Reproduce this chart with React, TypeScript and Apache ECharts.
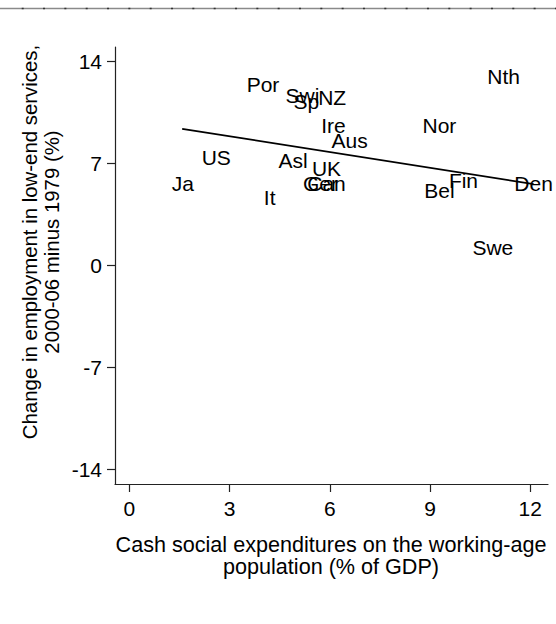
import React, { useEffect, useRef } from "react";
import * as echarts from "echarts";

// Country abbreviations and their values
const countries = ["Por", "Swi", "NZ", "Sp", "Ire", "Aus", "Nor", "Nth", "US", "Ja", "Asl", "UK", "Ger", "Can", "It", "Bel", "Fin", "Den", "Swe"];
const cashSpending = [4.0, 5.18, 6.07, 5.3, 6.11, 6.59, 9.28, 11.2, 2.6, 1.6, 4.9, 5.9, 5.72, 5.9, 4.2, 9.28, 10.0, 12.1, 10.88];
const employmentChange = [12.45, 11.66, 11.52, 11.25, 9.64, 8.57, 9.64, 12.96, 7.44, 5.62, 7.2, 6.65, 5.66, 5.62, 4.7, 5.14, 5.83, 5.62, 1.27];

// Fitted line end points
const fitX = [1.58, 12.1];
const fitY = [9.38, 5.59];

// Axis ticks
const xTicks = [0, 3, 6, 9, 12];
const yTicks = [-14, -7, 0, 7, 14];

const xTitle = "Cash social expenditures on the working-age\npopulation (% of GDP)";
const yTitle = "Change in employment in low-end services,\n2000-06 minus 1979 (%)";

const FONT = "'Liberation Sans', Arial, sans-serif";

export default function App() {
  const ref = useRef<HTMLDivElement>(null);

  useEffect(() => {
    if (!ref.current) return;
    const chart = echarts.init(ref.current, null, { renderer: "svg" });

    const points = countries.map((name, i) => ({ name, value: [cashSpending[i], employmentChange[i]] }));
    const fit = fitX.map((x, i) => [x, fitY[i]]);

    chart.setOption({
      animation: false,
      backgroundColor: "#fff",
      textStyle: { fontFamily: FONT },
      grid: { left: 115, top: 47, width: 433, height: 437, containLabel: false },
      xAxis: {
        type: "value",
        min: -0.43,
        max: 12.53,
        axisLine: { show: true, onZero: false, lineStyle: { color: "#222", width: 1.2 } },
        axisTick: { show: true, customValues: xTicks, length: 8, lineStyle: { color: "#222", width: 1.2 } },
        axisLabel: { customValues: xTicks, margin: 14, fontSize: 21, color: "#000", fontFamily: FONT },
        splitLine: { show: false },
      },
      yAxis: {
        type: "value",
        min: -15,
        max: 15,
        axisLine: { show: true, onZero: false, lineStyle: { color: "#222", width: 1.2 } },
        axisTick: { show: true, customValues: yTicks, length: 8, lineStyle: { color: "#222", width: 1.2 } },
        axisLabel: { customValues: yTicks, margin: 13, fontSize: 21, color: "#000", fontFamily: FONT },
        splitLine: { show: false },
      },
      graphic: [
        {
          type: "line",
          shape: { x1: 0, y1: 8.5, x2: 556, y2: 8.5 },
          style: { stroke: "#8a8a8a", lineWidth: 1.5 },
        },
        {
          type: "line",
          shape: { x1: 21.7, y1: 8.5, x2: 556, y2: 8.5 },
          style: { stroke: "#333", lineWidth: 1.5, lineDash: [2, 19.33] },
        },
        {
          type: "text",
          x: 41,
          y: 242,
          rotation: Math.PI / 2,
          style: {
            text: yTitle,
            fontSize: 20.4,
            fontFamily: FONT,
            fill: "#000",
            align: "center",
            verticalAlign: "middle",
            lineHeight: 22,
          },
        },
        {
          type: "text",
          x: 331,
          y: 555.5,
          style: {
            text: xTitle,
            fontSize: 21.6,
            fontFamily: FONT,
            fill: "#000",
            align: "center",
            verticalAlign: "middle",
            lineHeight: 21.5,
          },
        },
      ],
      series: [
        {
          type: "line",
          data: fit,
          showSymbol: false,
          symbol: "none",
          lineStyle: { color: "#000", width: 1.8 },
          z: 3,
        },
        {
          type: "scatter",
          data: points,
          symbolSize: 0.01,
          itemStyle: { color: "#000", opacity: 0 },
          label: {
            show: true,
            position: "inside",
            formatter: (p: any) => p.name,
            fontSize: 21,
            fontFamily: FONT,
            color: "#000",
            textBorderWidth: 0,
            opacity: 1,
          },
          labelLayout: { hideOverlap: false },
          z: 2,
        },
      ],
    });

    return () => chart.dispose();
  }, []);

  return <div ref={ref} style={{ position: "fixed", left: 0, top: 0, width: 556, height: 624 }} />;
}
